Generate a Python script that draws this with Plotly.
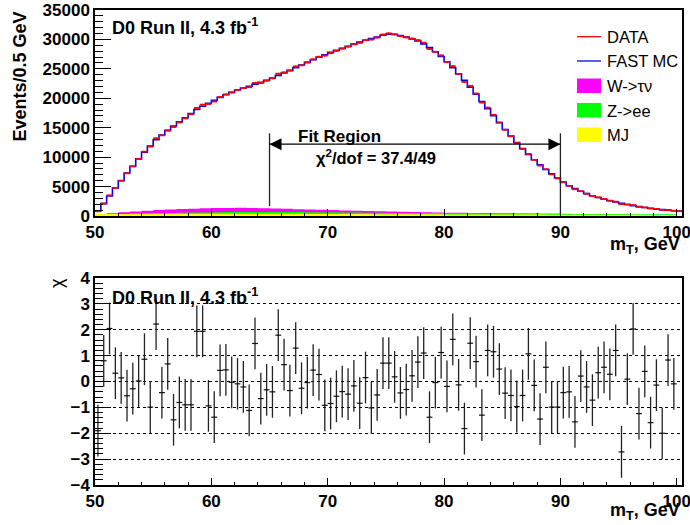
import numpy as np
import plotly.graph_objects as go

# ---------------- data ----------------
X_LO = 50.0
BIN_W = 0.5          # GeV per bin (main histograms)
BKG_BIN_W = 1.0      # GeV per bin (background templates)

fast_mc = [
    850, 2100, 3400, 4750, 6000, 7300, 8450, 9700, 10850, 11900,
    12950, 13750, 14500, 15300, 16000, 16700, 17400, 18100, 18650, 19150,
    19650, 20150, 20600, 21000, 21400, 21750, 22050, 22400, 22700, 23050,
    23450, 23900, 24300, 24750, 25200, 25650, 26100, 26550, 27000, 27400,
    27800, 28150, 28500, 28850, 29200, 29550, 29850, 30150, 30400, 30700,
    30900, 30850, 30650, 30400, 30100, 29750, 29250, 28600, 27900, 27100,
    26200, 25200, 24150, 23050, 21900, 20700, 19450, 18250, 17050, 15850,
    14700, 13600, 12500, 11450, 10450, 9550, 8700, 7900, 7150, 6450,
    5750, 5150, 4650, 4200, 3800, 3450, 3150, 2850, 2600, 2380,
    2150, 1950, 1770, 1600, 1450, 1320, 1200, 1090, 990, 900,
    820,
]

data_counts = [
    795, 2137, 3519, 4772, 6011, 7253, 8424, 9702, 10939, 11792,
    13203, 13700, 14582, 15117, 15898, 16584, 17281, 18360, 18915, 19020,
    19457, 20211, 20665, 20996, 21387, 21719, 21884, 22620, 22600, 23001,
    23389, 24177, 24401, 24695, 25405, 25608, 26094, 26622, 27044, 27247,
    27658, 28054, 28434, 28767, 29171, 29406, 29876, 29973, 30310, 30824,
    31025, 30882, 30573, 30346, 30138, 29879, 29438, 28367, 27893, 27285,
    26169, 25459, 24130, 22773, 22119, 20811, 19269, 18412, 17201, 15910,
    14646, 13537, 12391, 11392, 10559, 9535, 8565, 7949, 7066, 6371,
    5717, 5121, 4544, 4214, 3787, 3408, 3169, 2879, 2614, 2439,
    2024, 1954, 1855, 1550, 1465, 1262, 1195, 1024, 1016, 897,
    815,
]

chi_values = [
    -1.90, 0.80, 2.05, 0.32, 0.14, -0.55, -0.28, 0.02, 0.86, -0.99,
    2.22, -0.43, 0.68, -1.48, -0.81, -0.90, -0.90, 1.94, 1.94, -0.94,
    -1.38, 0.43, 0.45, -0.03, -0.09, -0.21, -1.12, 1.47, -0.66, -0.32,
    -0.40, 1.79, 0.65, -0.35, 1.29, -0.26, -0.04, 0.44, 0.27, -0.92,
    -0.85, -0.57, -0.39, -0.49, -0.17, -0.84, 0.15, -1.02, -0.52, 0.71,
    0.71, 0.18, -0.44, -0.31, 0.22, 0.75, 1.10, -1.38, -0.04, 1.12,
    -0.19, 1.63, -0.13, -1.82, 1.48, 0.77, -1.30, 1.20, 1.15, 0.48,
    -0.45, -0.54, -0.97, -0.54, 1.07, -0.15, -1.45, 0.55, -0.99, -0.99,
    -0.43, -0.40, -1.56, 0.21, -0.21, -0.72, 0.34, 0.55, 0.28, 1.20,
    -2.72, 0.09, 2.03, -1.24, 0.39, -1.59, -0.14, -2.00, 0.83, -0.09,
]
CHI_ERR = 1.0

w_taunu = [
    250, 450, 620, 780, 900, 1010, 1100, 1180, 1250, 1300,
    1340, 1370, 1390, 1370, 1330, 1280, 1220, 1160, 1100, 1050,
    1000, 950, 900, 850, 800, 750, 710, 670, 630, 600,
    570, 545, 520, 500, 480, 460, 440, 420, 400, 370,
    300, 240, 190, 150, 120, 100, 80, 70, 60, 50,
]
z_ee = [
    150, 220, 290, 350, 400, 450, 500, 540, 580, 610,
    640, 670, 690, 700, 700, 690, 680, 670, 650, 640,
    620, 600, 590, 570, 550, 530, 520, 510, 500, 490,
    470, 460, 450, 440, 430, 420, 410, 400, 390, 380,
    370, 360, 350, 340, 330, 320, 310, 300, 290, 280,
]
multijet = [
    330, 350, 360, 370, 380, 390, 395, 400, 400, 400,
    400, 395, 390, 385, 380, 375, 370, 365, 360, 355,
    350, 340, 330, 320, 310, 300, 295, 290, 285, 280,
    275, 270, 265, 260, 255, 250, 245, 240, 235, 230,
    225, 220, 215, 210, 205, 200, 195, 190, 185, 180,
]

x_tick_vals = [50, 60, 70, 80, 90, 100]
FIT_LO, FIT_HI = 65, 90
ARROW_LEVEL = 12200
FIT_LINE_TOP = 14050
FIT_LINE_BOTTOM = [1700, 300]

# ---------------- derived geometry ----------------
n_main = len(fast_mc)
edges = X_LO + BIN_W * np.arange(n_main + 1)
centers = X_LO + BIN_W * (np.arange(n_main) + 0.5)
chi_centers = X_LO + BIN_W * (np.arange(len(chi_values)) + 0.5)
bkg_edges = X_LO + BKG_BIN_W * np.arange(len(w_taunu) + 1)

FONT = "Liberation Sans"
W, H = 690, 525
L, R = 95, 682


def px(x):
    return (x - L) / (R - L)


def py(y):
    return (H - y) / H


fig = go.Figure()

# backgrounds (overlaid filled histograms)
for vals, col, name in [(w_taunu, "#ff00ff", "W->\u03c4\u03bd"),
                        (z_ee, "#00ff00", "Z->ee"),
                        (multijet, "#ffff00", "MJ")]:
    fig.add_trace(go.Scatter(
        x=bkg_edges, y=list(vals) + [vals[-1]], mode="lines",
        line=dict(shape="hv", width=0, color=col), fill="tozeroy",
        fillcolor=col, name=name, showlegend=False, xaxis="x", yaxis="y"))

# FAST MC step
fig.add_trace(go.Scatter(
    x=edges, y=list(fast_mc) + [fast_mc[-1]], mode="lines",
    line=dict(shape="hv", width=1.6, color="#0000ff"),
    name="FAST MC", showlegend=False, xaxis="x", yaxis="y"))

# DATA
fig.add_trace(go.Scatter(
    x=centers, y=data_counts, mode="markers",
    marker=dict(size=1, color="#ff0000"),
    error_x=dict(type="constant", value=BIN_W / 2, width=0, color="#ff0000", thickness=1.8),
    error_y=dict(type="data", array=np.sqrt(np.array(data_counts, dtype=float)),
                 width=0, color="#ff0000", thickness=1.2),
    name="DATA", showlegend=False, xaxis="x", yaxis="y"))

# chi residuals
fig.add_trace(go.Scatter(
    x=chi_centers, y=chi_values, mode="markers",
    marker=dict(size=1, color="#111111"),
    error_x=dict(type="constant", value=BIN_W / 2, width=0, color="#111111", thickness=1.2),
    error_y=dict(type="constant", value=CHI_ERR, width=0, color="#222222", thickness=1.3),
    name="chi", showlegend=False, xaxis="x2", yaxis="y2"))

tick_font = dict(family=FONT, size=17, color="black", weight="bold")
ytick_font = dict(family=FONT, size=17, color="black", weight="bold")

xcommon = dict(range=[50, 100.45], tickvals=x_tick_vals, ticks="inside", ticklen=7,
               tickwidth=1, tickcolor="black", showline=True, mirror=True,
               linecolor="black", linewidth=1.5, showgrid=False, zeroline=False,
               tickfont=tick_font, automargin=False, ticklabeloverflow="allow",
               minor=dict(ticks="inside", ticklen=3.5, dtick=2, tick0=50,
                          tickcolor="black", showgrid=False))

fig.update_layout(
    width=W, height=H, autosize=False,
    margin=dict(l=L, r=W - R, t=0, b=0, pad=0, autoexpand=False),
    paper_bgcolor="white", plot_bgcolor="white", showlegend=False,
    xaxis=dict(domain=[0, 1], anchor="y", **xcommon),
    yaxis=dict(domain=[py(216), py(10)], range=[0, 35000], dtick=5000,
               tickformat="d", ticks="inside", ticklen=16, tickwidth=1,
               tickcolor="black", showline=True, mirror=True, linecolor="black",
               linewidth=1.5, showgrid=False, zeroline=False, tickfont=ytick_font,
               automargin=False,
               minor=dict(ticks="inside", ticklen=8, dtick=1000, tickcolor="black",
                          showgrid=False)),
    xaxis2=dict(domain=[0, 1], anchor="y2", **xcommon),
    yaxis2=dict(domain=[py(485), py(278)], range=[-4, 4], dtick=1,
                ticks="inside", ticklen=16, tickwidth=1, tickcolor="black",
                showline=True, mirror=True, linecolor="black", linewidth=1.5,
                showgrid=True, gridcolor="black", gridwidth=1, griddash="dot",
                zeroline=False, tickfont=ytick_font, automargin=False,
                minor=dict(ticks="inside", ticklen=8, dtick=0.2, tickcolor="black",
                           showgrid=False)),
)

ann = []


def text(x, y, s, size, xa="left", ya="middle", bold=False, angle=0):
    ann.append(dict(x=px(x), y=py(y), xref="paper", yref="paper", text=s,
                    showarrow=False, xanchor=xa, yanchor=ya, textangle=angle,
                    font=dict(family=FONT, size=size, color="black",
                              weight="bold" if bold else "normal")))


text(19.5, 10, "Events/0.5 GeV", 18, xa="center", ya="top", bold=True, angle=-90)
text(682, 246, "m<sub>T</sub>, GeV", 18, xa="right", bold=True)
text(682, 511, "m<sub>T</sub>, GeV", 18, xa="right", bold=True)
text(110, 26.7, "D0 Run II, 4.3 fb<sup>-1</sup>", 18, bold=True)
text(110, 296.7, "D0 Run II, 4.3 fb<sup>-1</sup>", 18, bold=True)
text(339, 136.5, "Fit Region", 17, xa="center", bold=True)
text(314, 157, "\u03c7<sup>2</sup>/dof = 37.4/49", 16.5, bold=True)
text(57, 283, "\u03c7", 18, xa="center", angle=-90)

legend_rows = [("DATA", "line", "#ff0000", 36.7),
               ("FAST MC", "line", "#0000ff", 61),
               ("W->\u03c4\u03bd", "box", "#ff00ff", 86),
               ("Z->ee", "box", "#00ff00", 110.5),
               ("MJ", "box", "#ffff00", 135)]
shapes = []
for label, kind, col, yc in legend_rows:
    text(605, yc, label, 16.5)
    if kind == "line":
        shapes.append(dict(type="line", xref="paper", yref="paper",
                           x0=px(577), x1=px(601), y0=py(yc), y1=py(yc),
                           line=dict(color=col, width=1.3)))
    else:
        shapes.append(dict(type="rect", xref="paper", yref="paper",
                           x0=px(577), x1=px(601), y0=py(yc - 7.5), y1=py(yc + 7),
                           fillcolor=col, line=dict(width=0)))

# fit-region markers
for xv, yb in zip([FIT_LO, FIT_HI], FIT_LINE_BOTTOM):
    shapes.append(dict(type="line", xref="x", yref="y", x0=xv, x1=xv,
                       y0=yb, y1=FIT_LINE_TOP, line=dict(color="#222222", width=1.3)))
shapes.append(dict(type="line", xref="x", yref="y", x0=FIT_LO, x1=FIT_HI,
                   y0=ARROW_LEVEL, y1=ARROW_LEVEL, line=dict(color="black", width=1.2)))
shapes.append(dict(type="path", xref="x", yref="y", xsizemode="pixel", ysizemode="pixel",
                   xanchor=FIT_LO, yanchor=ARROW_LEVEL, path="M 0,0 L 12,6 L 12,-6 Z",
                   fillcolor="black", line=dict(width=0)))
shapes.append(dict(type="path", xref="x", yref="y", xsizemode="pixel", ysizemode="pixel",
                   xanchor=FIT_HI, yanchor=ARROW_LEVEL, path="M 0,0 L -12,6 L -12,-6 Z",
                   fillcolor="black", line=dict(width=0)))

fig.update_layout(annotations=ann, shapes=shapes)
fig.write_html("out.html", config={"displayModeBar": False},
               post_script="document.body.style.margin='0';document.body.style.overflow='hidden';")
